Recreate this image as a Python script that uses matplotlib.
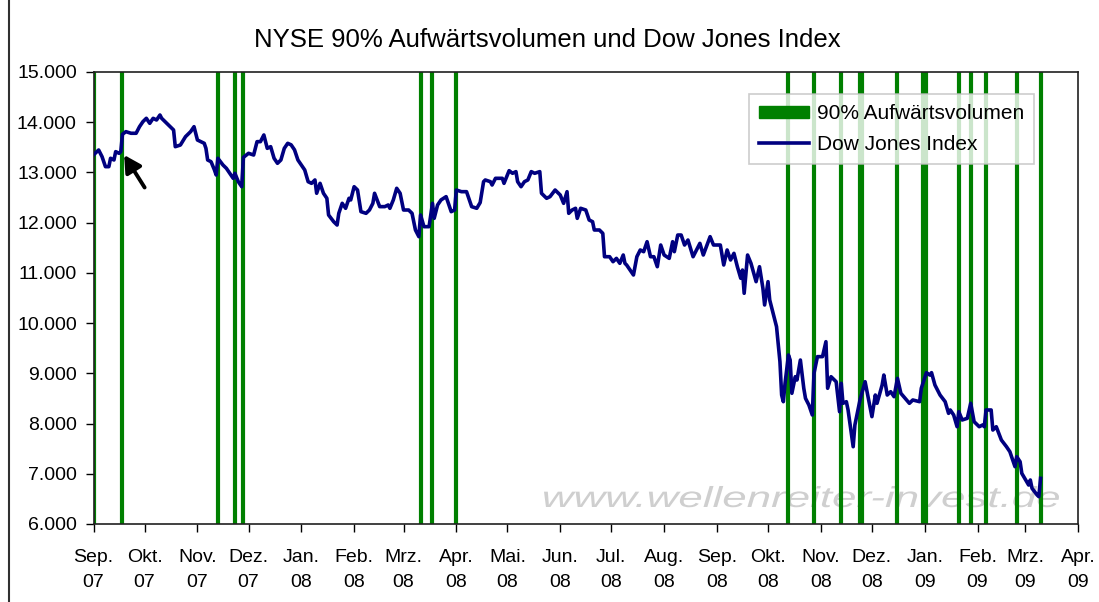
import matplotlib.pyplot as plt
from matplotlib.patches import Patch, PathPatch
from matplotlib.lines import Line2D
from matplotlib.textpath import TextPath
from matplotlib.font_manager import FontProperties
from matplotlib.transforms import Affine2D
import pandas as pd

# Dow Jones Index
dow_dates = [
    "2007-09-01", "2007-09-04", "2007-09-06", "2007-09-08", "2007-09-10", "2007-09-11",
    "2007-09-13", "2007-09-14", "2007-09-16", "2007-09-17", "2007-09-18", "2007-09-20",
    "2007-09-23", "2007-09-26", "2007-09-28", "2007-09-30", "2007-10-02", "2007-10-04",
    "2007-10-06", "2007-10-08", "2007-10-10", "2007-10-11", "2007-10-15", "2007-10-18",
    "2007-10-19", "2007-10-22", "2007-10-25", "2007-10-28", "2007-10-30", "2007-11-01",
    "2007-11-03", "2007-11-05", "2007-11-06", "2007-11-07", "2007-11-09", "2007-11-11",
    "2007-11-12", "2007-11-13", "2007-11-16", "2007-11-18", "2007-11-20", "2007-11-22",
    "2007-11-23", "2007-11-25", "2007-11-27", "2007-11-28", "2007-12-01", "2007-12-04",
    "2007-12-06", "2007-12-08", "2007-12-10", "2007-12-12", "2007-12-14", "2007-12-16",
    "2007-12-18", "2007-12-20", "2007-12-22", "2007-12-24", "2007-12-26", "2007-12-28",
    "2007-12-30", "2008-01-03", "2008-01-05", "2008-01-07", "2008-01-09", "2008-01-10",
    "2008-01-12", "2008-01-14", "2008-01-16", "2008-01-17", "2008-01-20", "2008-01-22",
    "2008-01-23", "2008-01-25", "2008-01-27", "2008-01-29", "2008-01-30", "2008-02-01",
    "2008-02-03", "2008-02-05", "2008-02-08", "2008-02-10", "2008-02-12", "2008-02-13",
    "2008-02-16", "2008-02-19", "2008-02-21", "2008-02-22", "2008-02-24", "2008-02-26",
    "2008-02-28", "2008-03-01", "2008-03-04", "2008-03-06", "2008-03-08", "2008-03-10",
    "2008-03-11", "2008-03-13", "2008-03-16", "2008-03-18", "2008-03-19", "2008-03-21",
    "2008-03-23", "2008-03-26", "2008-03-29", "2008-03-31", "2008-04-01", "2008-04-04",
    "2008-04-07", "2008-04-10", "2008-04-13", "2008-04-15", "2008-04-17", "2008-04-18",
    "2008-04-21", "2008-04-22", "2008-04-24", "2008-04-28", "2008-04-29", "2008-05-02",
    "2008-05-04", "2008-05-06", "2008-05-07", "2008-05-09", "2008-05-11", "2008-05-13",
    "2008-05-15", "2008-05-17", "2008-05-20", "2008-05-21", "2008-05-24", "2008-05-26",
    "2008-05-29", "2008-06-01", "2008-06-03", "2008-06-05", "2008-06-06", "2008-06-08",
    "2008-06-10", "2008-06-11", "2008-06-13", "2008-06-16", "2008-06-18", "2008-06-20",
    "2008-06-21", "2008-06-24", "2008-06-26", "2008-06-27", "2008-06-30", "2008-07-02",
    "2008-07-04", "2008-07-06", "2008-07-08", "2008-07-09", "2008-07-10", "2008-07-12",
    "2008-07-14", "2008-07-16", "2008-07-18", "2008-07-20", "2008-07-22", "2008-07-24",
    "2008-07-26", "2008-07-28", "2008-07-30", "2008-08-01", "2008-08-04", "2008-08-06",
    "2008-08-07", "2008-08-09", "2008-08-11", "2008-08-13", "2008-08-15", "2008-08-18",
    "2008-08-22", "2008-08-24", "2008-08-28", "2008-08-30", "2008-09-03", "2008-09-05",
    "2008-09-07", "2008-09-09", "2008-09-11", "2008-09-13", "2008-09-15", "2008-09-16",
    "2008-09-17", "2008-09-19", "2008-09-21", "2008-09-24", "2008-09-26", "2008-09-28",
    "2008-09-29", "2008-10-01", "2008-10-02", "2008-10-04", "2008-10-06", "2008-10-08",
    "2008-10-09", "2008-10-10", "2008-10-11", "2008-10-13", "2008-10-14", "2008-10-15",
    "2008-10-17", "2008-10-18", "2008-10-20", "2008-10-22", "2008-10-23", "2008-10-25",
    "2008-10-27", "2008-10-28", "2008-10-30", "2008-11-02", "2008-11-04", "2008-11-05",
    "2008-11-07", "2008-11-10", "2008-11-12", "2008-11-13", "2008-11-14", "2008-11-16",
    "2008-11-17", "2008-11-20", "2008-11-21", "2008-11-24", "2008-11-27", "2008-12-01",
    "2008-12-03", "2008-12-04", "2008-12-07", "2008-12-08", "2008-12-10", "2008-12-12",
    "2008-12-14", "2008-12-16", "2008-12-18", "2008-12-23", "2008-12-25", "2008-12-29",
    "2008-12-30", "2009-01-02", "2009-01-04", "2009-01-05", "2009-01-07", "2009-01-10",
    "2009-01-13", "2009-01-15", "2009-01-16", "2009-01-18", "2009-01-20", "2009-01-21",
    "2009-01-23", "2009-01-26", "2009-01-28", "2009-01-30", "2009-02-02", "2009-02-04",
    "2009-02-05", "2009-02-06", "2009-02-09", "2009-02-10", "2009-02-12", "2009-02-15",
    "2009-02-18", "2009-02-20", "2009-02-23", "2009-02-24", "2009-02-26", "2009-02-27",
    "2009-03-03", "2009-03-04", "2009-03-05", "2009-03-08", "2009-03-09", "2009-03-10",
]
dow_values = [
    13350, 13447, 13314, 13115, 13115, 13282,
    13248, 13414, 13381, 13414, 13760, 13812,
    13780, 13780, 13911, 14011, 14078, 13978,
    14078, 14044, 14144, 14078, 13945, 13845,
    13513, 13546, 13712, 13812, 13911, 13646,
    13613, 13580, 13480, 13248, 13214, 13049,
    12949, 13282, 13148, 13082, 12983, 12883,
    12983, 12816, 12716, 13300, 13381, 13347,
    13613, 13613, 13746, 13480, 13513, 13282,
    13182, 13248, 13480, 13580, 13550, 13450,
    13248, 13049, 12816, 12783, 12850, 12585,
    12783, 12585, 12485, 12153, 12019, 11953,
    12186, 12385, 12286, 12485, 12452, 12716,
    12650, 12219, 12186, 12252, 12385, 12585,
    12319, 12319, 12352, 12286, 12452, 12684,
    12585, 12252, 12252, 12186, 11854, 11721,
    12153, 11920, 11920, 12385, 12086, 12352,
    12452, 12518, 12219, 12252, 12650, 12617,
    12617, 12319, 12286, 12400, 12816, 12850,
    12816, 12750, 12883, 12883, 12783, 13035,
    12983, 13016, 12816, 12716, 12816, 12850,
    13016, 12983, 13016, 12585, 12485, 12518,
    12650, 12551, 12385, 12617, 12186, 12252,
    12286, 12086, 12286, 12252, 12053, 12019,
    11854, 11854, 11787, 11322, 11322, 11223,
    11289, 11190, 11356, 11190, 11157, 11057,
    10958, 11322, 11456, 11422, 11621, 11322,
    11322, 11123, 11555, 11356, 11289, 11621,
    11422, 11754, 11754, 11555, 11654, 11322,
    11588, 11356, 11721, 11555, 11555, 11157,
    11456, 11257, 11389, 11123, 10892, 11057,
    10594, 11356, 11190, 10825, 11123, 10693,
    10361, 10825, 10460, 10195, 9929, 9232,
    8568, 8435, 8800, 9365, 9265, 8602,
    8933, 8867, 9265, 8702, 8502, 8369,
    8170, 9000, 9332, 9332, 9630, 8702,
    8933, 8833, 8236, 8800, 8403, 8435,
    8270, 7539, 7971, 8469, 8833, 8137,
    8568, 8403, 8767, 8966, 8568, 8634,
    8535, 8900, 8602, 8403, 8469, 8435,
    8702, 9013, 8966, 9013, 8767, 8568,
    8435, 8203, 8270, 8170, 7937, 8236,
    8071, 8104, 8403, 8037, 7937, 7971,
    7937, 8270, 8270, 7871, 7937, 7672,
    7539, 7439, 7141, 7340, 7240, 7008,
    6776, 6876, 6710, 6577, 6544, 6909,
]

# days with 90% up volume on the NYSE
up_volume_days = [
    "2007-09-01", "2007-09-18", "2007-11-13", "2007-11-23", "2007-11-28",
    "2008-03-11", "2008-03-18", "2008-04-01", "2008-10-13", "2008-10-28",
    "2008-11-13", "2008-11-24", "2008-11-25", "2008-12-16", "2008-12-31",
    "2009-01-02", "2009-01-21", "2009-01-28", "2009-02-06", "2009-02-24",
    "2009-03-10",
]

month_names = ["Sep.", "Okt.", "Nov.", "Dez.", "Jan.", "Feb.", "Mrz.", "Apr.", "Mai.", "Jun.",
               "Jul.", "Aug.", "Sep.", "Okt.", "Nov.", "Dez.", "Jan.", "Feb.", "Mrz.", "Apr."]
month_years = ["07"] * 4 + ["08"] * 12 + ["09"] * 4

GREEN = '#008000'
NAVY = '#000080'

plt.rcParams['font.family'] = ['Liberation Sans', 'DejaVu Sans']

fig = plt.figure(figsize=(10.99, 6.02), dpi=100)
ax = fig.add_axes([0.0851, 0.1296, 0.8958, 0.7508])

dates = pd.to_datetime(dow_dates)
for d in pd.to_datetime(up_volume_days):
    ax.axvline(d, color=GREEN, lw=3.0, zorder=2)
ax.plot(dates, dow_values, color=NAVY, lw=2.6, zorder=3, solid_joinstyle='round')

ax.set_xlim(pd.Timestamp("2007-09-01"), pd.Timestamp("2009-04-01"))
ax.set_ylim(6000, 15000)
ax.set_yticks(range(6000, 15001, 1000))
ax.set_yticklabels([f"{v:,}".replace(",", ".") for v in range(6000, 15001, 1000)])

ticks = pd.date_range("2007-09-01", "2009-04-01", freq="MS")
ax.set_xticks(ticks)
ax.set_xticklabels([f"{m}\n{y}" for m, y in zip(month_names, month_years)],
                   linespacing=1.65)
ax.tick_params(axis='both', direction='out', length=6, width=1, labelsize=14, color='black')
ax.tick_params(axis='x', pad=12)
ax.tick_params(axis='y', pad=6)
for s in ax.spines.values():
    s.set_color('#202020')
    s.set_linewidth(1.2)

# watermark, stretched sideways like the original
tp = TextPath((0, 0), "www.wellenreiter-invest.de", size=1,
              prop=FontProperties(family='Liberation Sans', style='italic'))
ext = tp.get_extents()
wm = Affine2D().translate(-ext.x0, 0).scale(515 / ext.width, 29).translate(544, 95)
ax.add_patch(PathPatch(tp, transform=wm, facecolor='#cfcfcf', edgecolor='none',
                       zorder=1, clip_on=False))

# arrow to the first up-volume day
ax.annotate("", xy=(pd.Timestamp("2007-09-19"), 13347), xytext=(pd.Timestamp("2007-10-01"), 12700),
            arrowprops=dict(arrowstyle='-|>,head_length=1.0,head_width=0.55', color='black', lw=2.8,
                            shrinkA=0, shrinkB=0),
            zorder=4)

handles = [Patch(facecolor=GREEN, edgecolor=GREEN), Line2D([], [], color=NAVY, lw=2.6)]
leg = ax.legend(handles, ['90% Aufwärtsvolumen', 'Dow Jones Index'],
                loc='upper left', bbox_to_anchor=(749 / 1099, 1 - 94 / 602),
                bbox_transform=fig.transFigure, borderaxespad=0,
                fontsize=15, frameon=True, fancybox=False, edgecolor='#c0c0c0',
                handlelength=2.4, handleheight=0.5, borderpad=0.5,
                labelspacing=0.55, handletextpad=0.35)
leg.get_frame().set_linewidth(1.2)

fig.text(0.498, 1 - 40 / 602, "NYSE 90% Aufwärtsvolumen und Dow Jones Index", ha='center',
         va='center', fontsize=18.5)

# outer chart border
fig.patches.append(plt.Rectangle((0.008, -0.01), 1.1, 1.2, transform=fig.transFigure,
                                 fill=False, edgecolor='#303030', lw=1.5))

fig.savefig("out.png", dpi=100)
